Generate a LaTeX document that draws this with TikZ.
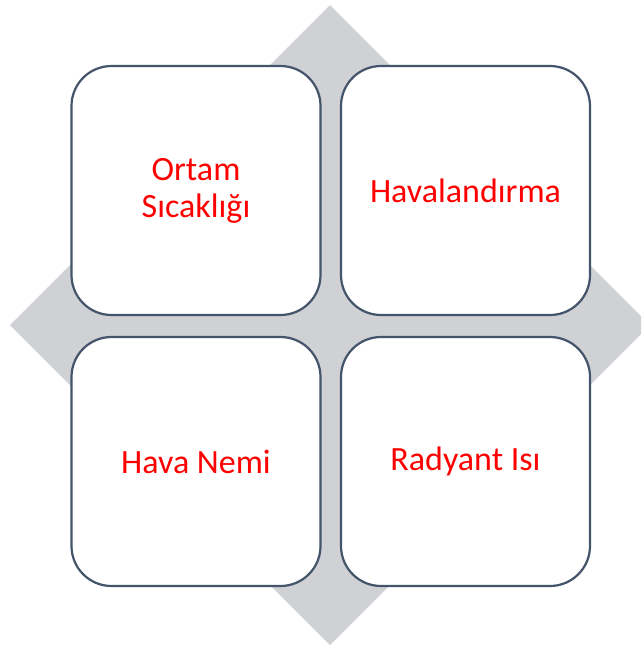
\documentclass[tikz,border=0pt]{standalone}
\usepackage{fontspec}
\setmainfont{Carlito}
\usepackage{tikz}
\definecolor{diagray}{RGB}{207,209,213}
\definecolor{slate}{RGB}{68,84,106}

\begin{document}
\begin{tikzpicture}[x=1pt, y=-1pt,
    cell/.style={draw=slate, line width=2.2pt, fill=white, rounded corners=40pt,
        minimum width=249pt, minimum height=249pt, align=center, text=red,
        font=\fontsize{34}{37}\selectfont}]
    % Frame
    \useasboundingbox (0,0) rectangle (641,646);
    \clip (0,0) rectangle (641,646);

    % Diamond behind the cells
    \fill[diagray] (330,5) -- (650,325) -- (330,645) -- (10,325) -- cycle;

    % Cells (2 x 2)
    \node[cell] (temp) at (196,190.5) {Ortam\\Sıcaklığı};
    \node[cell] (vent) at (465.5,190.5) {Havalandırma};
    \node[cell] (humid) at (196,461.5) {Hava Nemi};
    \node[cell] (rad) at (465.5,461.5) {Radyant Isı};

\end{tikzpicture}
\end{document}
